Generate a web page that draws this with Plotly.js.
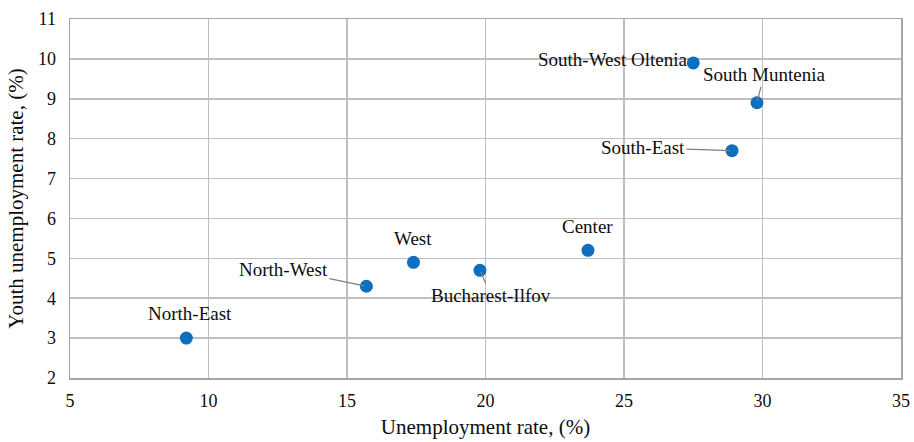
<!DOCTYPE html>
<html>
<head>
<meta charset="utf-8">
<script src="https://cdn.plot.ly/plotly-3.0.1.min.js"></script>
<style>
  html, body { margin: 0; padding: 0; background: #fff; }
  #plot { width: 914px; height: 442px; }
</style>
</head>
<body>
<div id="plot"></div>
<script>
// regions and their rates
let regions = ['North-East', 'North-West', 'West', 'Bucharest-Ilfov', 'Center',
               'South-West Oltenia', 'South Muntenia', 'South-East']
let unemployment = [9.2, 15.7, 17.4, 19.8, 23.7, 27.5, 29.8, 28.9]
let youthUnemployment = [3.0, 4.3, 4.9, 4.7, 5.2, 9.9, 8.9, 7.7]

// label offsets in pixels (text centre relative to the point), and whether a leader line shows
let labelDx = [4, -83, 0, 11, 0, -81, 7, -89]
let labelDy = [-25, -17, -24, 25, -24, -3, -28, -3]
let leader = [false, true, false, true, false, false, true, true]

let serif = 'Liberation Serif, Times New Roman, serif'

let trace = {
    x: unemployment,
    y: youthUnemployment,
    text: regions,
    mode: 'markers',
    type: 'scatter',
    marker: { color: '#0e6fbe', size: 13 },
    hoverinfo: 'text+x+y'
}

let annotations = regions.map((name, i) => ({
    x: unemployment[i],
    y: youthUnemployment[i],
    text: name,
    showarrow: true,
    arrowhead: 0,
    arrowwidth: 1.2,
    arrowcolor: leader[i] ? '#7f7f7f' : 'rgba(0,0,0,0)',
    standoff: 2,
    ax: labelDx[i],
    ay: labelDy[i],
    font: { family: serif, size: 19, color: '#0d0d0d' }
}))

let layout = {
    width: 914,
    height: 442,
    margin: { l: 70, r: 13, t: 19, b: 64 },
    paper_bgcolor: '#fff',
    plot_bgcolor: '#fff',
    showlegend: false,
    font: { family: serif, size: 18, color: '#0d0d0d' },
    xaxis: {
        range: [5, 35],
        dtick: 5,
        showgrid: true,
        gridcolor: '#bfbfbf',
        gridwidth: 1.5,
        zeroline: false,
        showline: true,
        linecolor: '#a6a6a6',
        linewidth: 1.5,
        mirror: true,
        ticks: 'outside',
        ticklen: 6,
        tickcolor: 'rgba(0,0,0,0)',
        tickfont: { family: serif, size: 18, color: '#0d0d0d' },
        title: { text: 'Unemployment rate, (%)', font: { family: serif, size: 21, color: '#0d0d0d' }, standoff: 9 }
    },
    yaxis: {
        range: [2, 11],
        dtick: 1,
        showgrid: true,
        gridcolor: '#bfbfbf',
        gridwidth: 1.5,
        zeroline: false,
        showline: true,
        linecolor: '#a6a6a6',
        linewidth: 1.5,
        mirror: true,
        ticks: 'outside',
        ticklen: 9,
        tickcolor: 'rgba(0,0,0,0)',
        tickfont: { family: serif, size: 18, color: '#0d0d0d' },
        title: { text: 'Youth unemployment rate, (%)', font: { family: serif, size: 21, color: '#0d0d0d' }, standoff: 8 }
    },
    annotations: annotations
}

Plotly.newPlot('plot', [trace], layout, { displayModeBar: false, staticPlot: true })
</script>
</body>
</html>
